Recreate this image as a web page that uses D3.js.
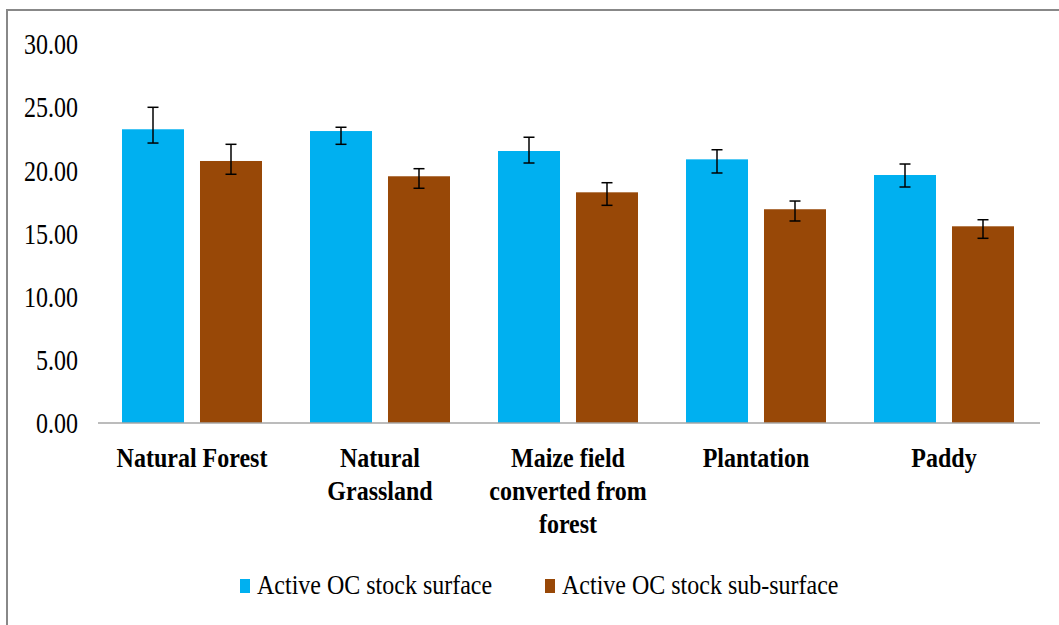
<!DOCTYPE html>
<html>
<head>
<meta charset="utf-8">
<script src="https://cdn.jsdelivr.net/npm/d3@7"></script>
<style>
  html, body { margin: 0; padding: 0; background: #fff; }
  svg { display: block; }
  text { font-family: "Liberation Serif", "Times New Roman", serif; fill: #000; }
</style>
</head>
<body>
<script>
// ---- data ----
const categories = ["Natural Forest", "Natural Grassland", "Maize field converted from forest", "Plantation", "Paddy"];
const categoryLines = [["Natural Forest"], ["Natural", "Grassland"], ["Maize field", "converted from", "forest"], ["Plantation"], ["Paddy"]];
const seriesNames = ["Active OC stock surface", "Active OC stock sub-surface"];
const surface   = [23.25, 23.11, 21.53, 20.87, 19.63];
const surfaceHi = [24.99, 23.41, 22.62, 21.63, 20.50];
const surfaceLo = [22.16, 22.06, 20.58, 19.79, 18.68];
const subsurface   = [20.74, 19.53, 18.26, 16.92, 15.57];
const subsurfaceHi = [22.06, 20.13, 19.02, 17.57, 16.09];
const subsurfaceLo = [19.69, 18.58, 17.23, 15.99, 14.62];
const yTicks = [0, 5, 10, 15, 20, 25, 30];
const colors = ["#00B0F0", "#984807"];

const W = 1059, H = 625;
const svg = d3.select("body").append("svg").attr("width", W).attr("height", H);

// outer border (top and left visible)
svg.append("line").attr("x1", 6).attr("x2", W).attr("y1", 10).attr("y2", 10)
  .attr("stroke", "#888").attr("stroke-width", 2);
svg.append("line").attr("x1", 7).attr("x2", 7).attr("y1", 9).attr("y2", H)
  .attr("stroke", "#888").attr("stroke-width", 2);

const x0 = d3.scaleBand().domain(categories).range([98, 1038]).padding(0);
const x1 = d3.scaleBand().domain(seriesNames).range([0, x0.bandwidth()])
  .paddingInner(0.205).paddingOuter(0.3077);
const y = d3.scaleLinear().domain([0, 30]).range([423, 44]);

// y axis (labels only)
const yAxis = svg.append("g").attr("transform", "translate(98,0)")
  .call(d3.axisLeft(y).tickValues(yTicks).tickFormat(d3.format(".2f")).tickSize(0).tickPadding(20));
yAxis.select(".domain").remove();
yAxis.selectAll("text")
  .style("font-family", "'Liberation Serif', 'Times New Roman', serif")
  .style("font-size", "24px").attr("fill", "#000")
  .attr("dy", "0.34em")
  .attr("transform", "scale(1,1.2)");

// data rows
const rows = categories.map((c, i) => ({
  cat: c,
  vals: [
    { s: seriesNames[0], v: surface[i], hi: surfaceHi[i], lo: surfaceLo[i], c: colors[0] },
    { s: seriesNames[1], v: subsurface[i], hi: subsurfaceHi[i], lo: subsurfaceLo[i], c: colors[1] }
  ]
}));

const groups = svg.append("g").selectAll("g").data(rows).join("g")
  .attr("transform", d => `translate(${x0(d.cat)},0)`);

groups.selectAll("rect").data(d => d.vals).join("rect")
  .attr("x", d => x1(d.s))
  .attr("y", d => y(d.v))
  .attr("width", x1.bandwidth())
  .attr("height", d => y(0) - y(d.v))
  .attr("fill", d => d.c);

// baseline
svg.append("line").attr("x1", 98).attr("x2", 1040).attr("y1", y(0)).attr("y2", y(0))
  .attr("stroke", "#a6a6a6").attr("stroke-width", 1.5);

// error bars
const eb = groups.selectAll("g.err").data(d => d.vals).join("g").attr("class", "err");
eb.append("line")
  .attr("x1", d => x1(d.s) + x1.bandwidth() / 2).attr("x2", d => x1(d.s) + x1.bandwidth() / 2)
  .attr("y1", d => y(d.hi)).attr("y2", d => y(d.lo))
  .attr("stroke", "#000").attr("stroke-width", 1.5);
["hi", "lo"].forEach(k => {
  eb.append("line")
    .attr("x1", d => x1(d.s) + x1.bandwidth() / 2 - 5.5).attr("x2", d => x1(d.s) + x1.bandwidth() / 2 + 5.5)
    .attr("y1", d => y(d[k])).attr("y2", d => y(d[k]))
    .attr("stroke", "#000").attr("stroke-width", 1.5);
});

// category labels
categoryLines.forEach((lines, i) => {
  const cx = x0(categories[i]) + x0.bandwidth() / 2;
  lines.forEach((ln, j) => {
    svg.append("text")
      .attr("transform", `translate(${cx},${467 + j * 33}) scale(1,1.12)`)
      .attr("text-anchor", "middle")
      .style("font-size", "24px").style("font-weight", "bold")
      .text(ln);
  });
});

// legend
const legendX = [240, 545];
seriesNames.forEach((s, i) => {
  svg.append("rect").attr("x", legendX[i]).attr("y", 579).attr("width", 10).attr("height", 14)
    .attr("fill", colors[i]);
  svg.append("text")
    .attr("transform", `translate(${legendX[i] + 17},594) scale(1,1.12)`)
    .style("font-size", "24px")
    .text(s);
});
</script>
</body>
</html>
